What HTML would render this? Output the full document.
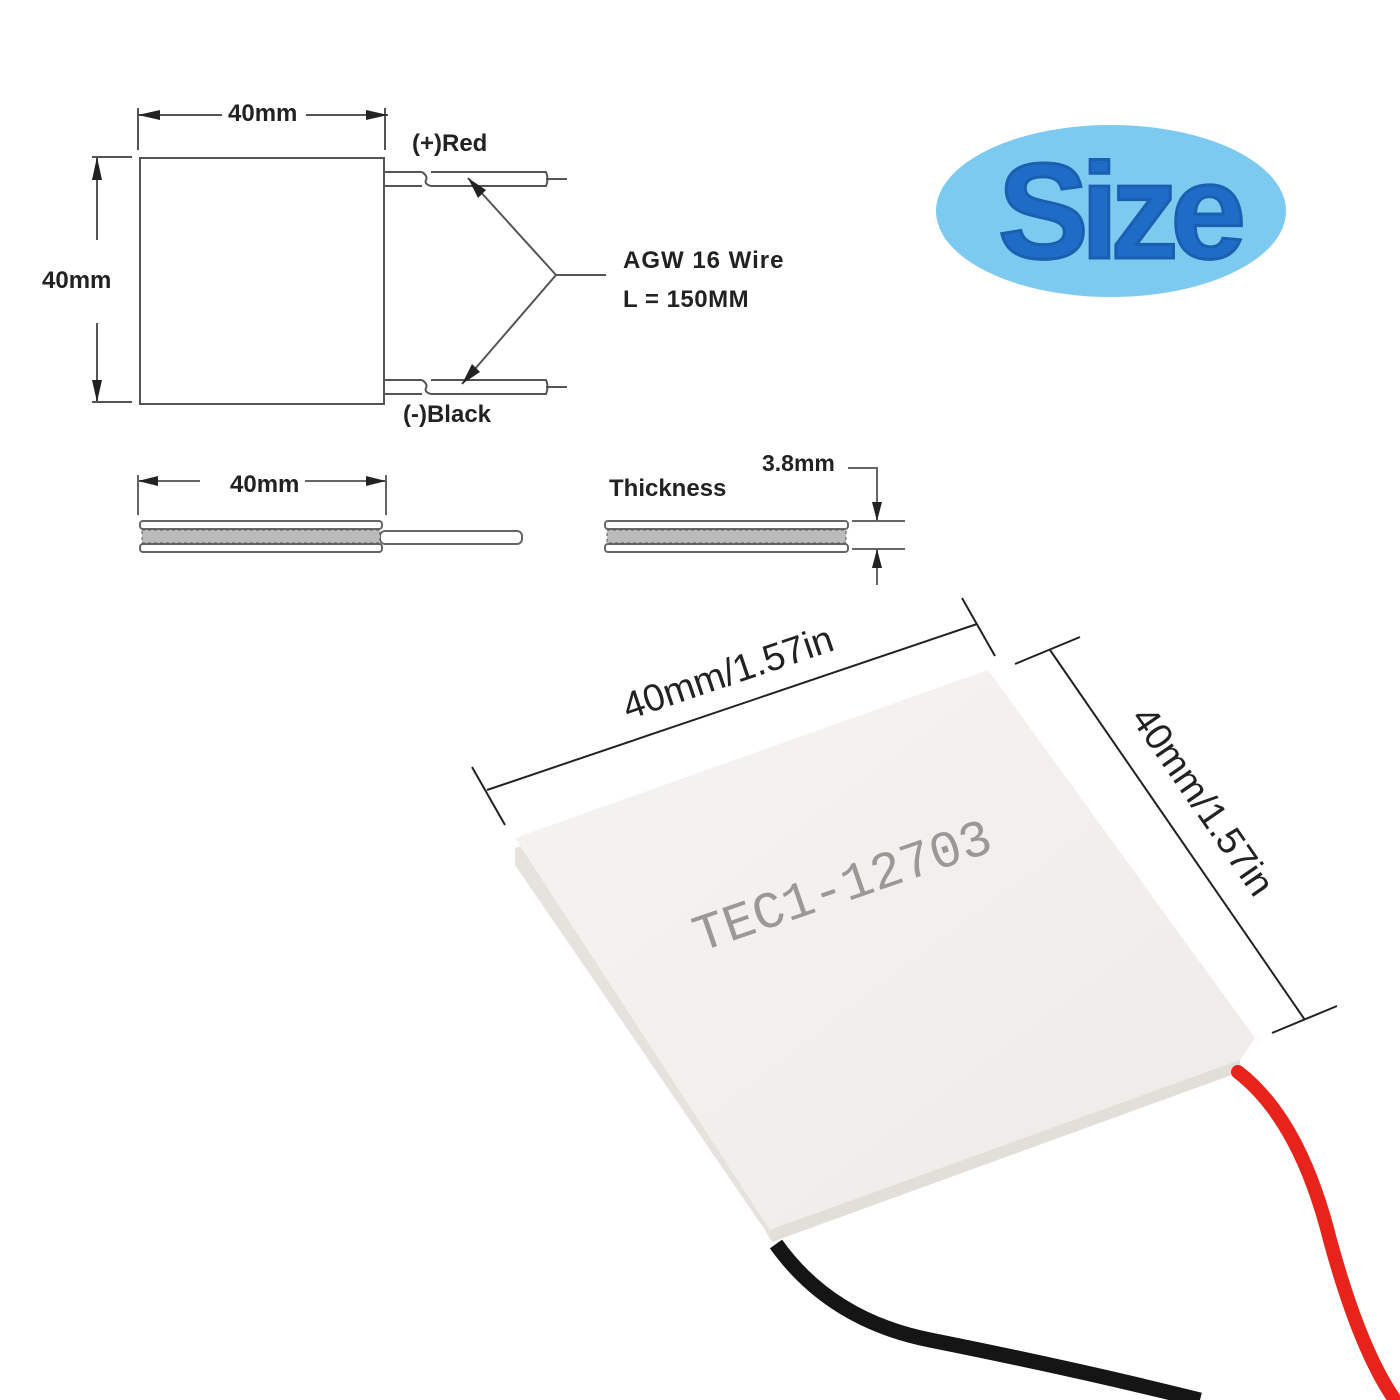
<!DOCTYPE html>
<html><head><meta charset="utf-8"><style>
html,body{margin:0;padding:0;background:#fff;}
svg{display:block}
</style></head><body>
<svg width="1400" height="1400" viewBox="0 0 1400 1400" xmlns="http://www.w3.org/2000/svg" font-family="Liberation Sans, sans-serif">
<defs>
<linearGradient id="tile" x1="0" y1="0" x2="1" y2="1">
<stop offset="0" stop-color="#f6f4f2"/><stop offset="1" stop-color="#eeeae7"/>
</linearGradient>
</defs>
<g stroke="#555" fill="none" stroke-width="2">
<rect x="140" y="158" width="244" height="246" fill="#fff"/>
<line x1="138" y1="108" x2="138" y2="150"/>
<line x1="385" y1="108" x2="385" y2="150"/>
<line x1="138" y1="115" x2="222" y2="115"/>
<line x1="306" y1="115" x2="388" y2="115"/>
<line x1="92" y1="157" x2="132" y2="157"/>
<line x1="92" y1="402" x2="132" y2="402"/>
<line x1="97" y1="157" x2="97" y2="240"/>
<line x1="97" y1="323" x2="97" y2="402"/>
<path d="M384 172 H422 M384 186 H422 M431 172 H546 Q549 179 546 186 H431 M422 172 Q428 176 426 180 Q424 184 431 186 M546 179 H567"/>
<path d="M384 380 H422 M384 394 H422 M431 380 H546 Q549 387 546 394 H431 M422 380 Q428 384 426 388 Q424 392 431 394 M546 387 H567"/>
<path d="M468 178 L556 275 L462 384 M556 275 H606"/>
</g>
<g fill="#222">
<polygon points="138,115 160,110 160,120"/><polygon points="388,115 366,110 366,120"/>
<polygon points="97,157 92,180 102,180"/><polygon points="97,402 92,380 102,380"/>
<polygon points="468,178 486,190 478,198"/><polygon points="462,384 472,364 480,372"/>
</g>
<g font-weight="bold" fill="#222" font-size="24">
<text x="228" y="121">40mm</text>
<text x="42" y="288">40mm</text>
<text x="412" y="151">(+)Red</text>
<text x="403" y="422">(-)Black</text>
<text x="623" y="268" letter-spacing="1">AGW 16 Wire</text>
<text x="623" y="307" letter-spacing="0.5">L = 150MM</text>
<text x="230" y="492">40mm</text>
<text x="609" y="496">Thickness</text>
<text x="762" y="471" font-size="23">3.8mm</text>
</g>
<g stroke="#666" fill="none" stroke-width="2">
<line x1="138" y1="475" x2="138" y2="515"/><line x1="386" y1="475" x2="386" y2="515"/>
<line x1="138" y1="481" x2="200" y2="481"/><line x1="305" y1="481" x2="386" y2="481"/>
<rect x="140" y="521" width="242" height="8" rx="3"/>
<rect x="140" y="544" width="242" height="8" rx="3"/>
<rect x="380" y="531" width="142" height="13" rx="5"/>
<rect x="605" y="521" width="243" height="8" rx="3"/>
<rect x="605" y="544" width="243" height="8" rx="3"/>
<line x1="852" y1="521" x2="905" y2="521"/><line x1="852" y1="549" x2="905" y2="549"/>
<path d="M848 468 H877 V520 M877 550 V585"/>
</g>
<rect x="142" y="530" width="238" height="13" fill="#bbb" stroke="#555" stroke-dasharray="3 3"/>
<rect x="607" y="530" width="239" height="13" fill="#bbb" stroke="#555" stroke-dasharray="3 3"/>
<g fill="#222"><polygon points="138,481 158,476 158,486"/><polygon points="386,481 366,476 366,486"/>
<polygon points="877,521 872,502 882,502"/><polygon points="877,549 872,568 882,568"/></g>
<ellipse cx="1111" cy="211" rx="175" ry="86" fill="#7ccaf0"/>
<text x="1118" y="258" font-size="136" font-weight="bold" fill="#1f6cc6" stroke="#1a5fb0" stroke-width="3" text-anchor="middle" letter-spacing="-8">Size</text>
<g stroke="#222" stroke-width="2" fill="none">
<line x1="487" y1="790" x2="977" y2="624"/>
<line x1="472" y1="767" x2="505" y2="825"/>
<line x1="962" y1="598" x2="995" y2="656"/>
<line x1="1050" y1="650" x2="1305" y2="1020"/>
<line x1="1015" y1="664" x2="1080" y2="637"/>
<line x1="1272" y1="1033" x2="1337" y2="1006"/>
</g>
<text transform="translate(628,720) rotate(-18.7)" font-size="38" fill="#222">40mm/1.57in</text>
<text transform="translate(1130,718) rotate(55.4)" font-size="38" fill="#222">40mm/1.57in</text>
<polygon points="515,848 990,686 1240,1050 1240,1072 770,1240 765,1230 515,865" fill="#e6e2de"/>
<polygon points="515,838 988,670 1255,1038 1240,1060 775,1228 770,1230" fill="url(#tile)"/>
<polygon points="770,1230 1240,1060 1240,1072 772,1242" fill="#e2deda"/>
<text transform="translate(700,952) rotate(-19)" style="font-family:'Liberation Mono',monospace" font-size="52" fill="#9a9898">TEC1-12703</text>
<path d="M1238 1072 Q1300 1120 1330 1240 Q1360 1350 1395 1400" stroke="#e8231c" stroke-width="14" fill="none" stroke-linecap="round"/>
<path d="M776 1244 Q830 1320 930 1340 Q1080 1370 1200 1400" stroke="#151515" stroke-width="15" fill="none"/>
</svg>
</body></html>
